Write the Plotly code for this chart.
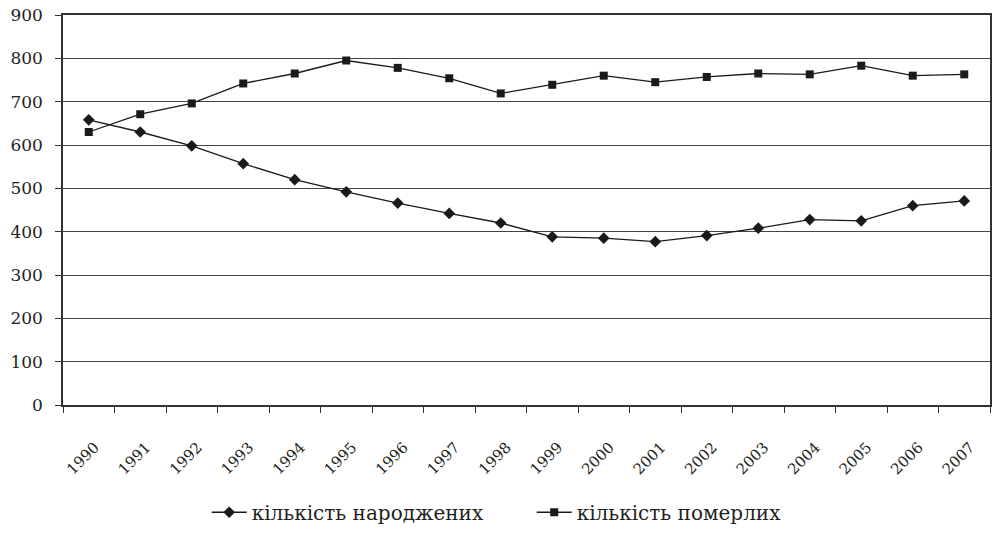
import plotly.graph_objects as go

years = [str(y) for y in range(1990, 2008)]
births = [658, 630, 598, 557, 520, 492, 466, 442, 420, 388, 385, 377, 391, 408, 428, 425, 460, 471]
deaths = [630, 671, 696, 742, 765, 795, 778, 754, 719, 739, 760, 745, 757, 765, 763, 783, 760, 763]
y_ticks = [0, 100, 200, 300, 400, 500, 600, 700, 800, 900]
name_births = "кількість народжених"
name_deaths = "кількість померлих"

FONT = "DejaVu Serif"

fig = go.Figure()
fig.add_trace(go.Scatter(
    x=years, y=births, name=name_births, mode="lines+markers",
    line=dict(color="#1a1a1a", width=1.3),
    marker=dict(symbol="diamond", size=9, color="#1a1a1a"),
))
fig.add_trace(go.Scatter(
    x=years, y=deaths, name=name_deaths, mode="lines+markers",
    line=dict(color="#1a1a1a", width=1.3),
    marker=dict(symbol="square", size=8, color="#1a1a1a"),
))

fig.update_layout(
    width=992, height=534,
    margin=dict(l=63, r=2, t=15, b=116),
    paper_bgcolor="white", plot_bgcolor="white",
    font=dict(family=FONT, color="#231f20", size=16),
    showlegend=True,
    legend=dict(
        orientation="h", x=0.155, xanchor="left", y=-0.225, yanchor="top",
        font=dict(size=20, family=FONT), entrywidth=275, entrywidthmode="pixels",
        itemwidth=35,
    ),
    xaxis=dict(
        type="category", range=[-0.5, len(years) - 0.5], autorange=False,
        showgrid=False, showline=True, linecolor="#333", linewidth=1.5,
        mirror=True, ticks="outside", tickson="boundaries", ticklen=6, tickcolor="#333",
        tickangle=-45, tickfont=dict(size=15, family=FONT), automargin=False,
        ticklabelshift=6, ticklabelstandoff=26,
    ),
    yaxis=dict(
        range=[0, 900], tickvals=y_ticks, showgrid=True, gridcolor="#444", gridwidth=1,
        showline=True, linecolor="#333", linewidth=1.5, mirror=True,
        ticks="outside", ticklen=6, tickcolor="#333", ticklabelstandoff=9,
        tickfont=dict(size=17, family=FONT), zeroline=False, automargin=False,
    ),
)

fig.write_html(
    "out.html", config={"displayModeBar": False},
    post_script=(
        "document.body.style.margin='0';"
        "document.body.style.overflow='hidden';"
        "document.documentElement.style.overflow='hidden';"
    ),
)
